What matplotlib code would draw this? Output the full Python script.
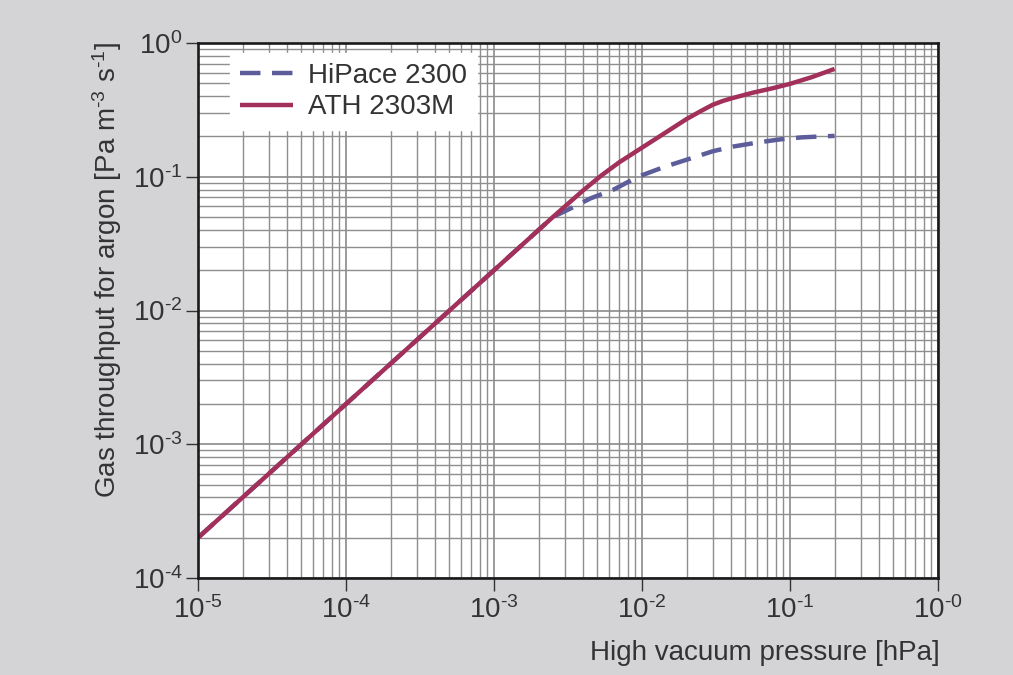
import matplotlib
matplotlib.use("Agg")
import matplotlib.pyplot as plt

# ---- data ----
p_ath = [1e-5, 1e-4, 1e-3, 2.5e-3, 4e-3, 5.3e-3, 7e-3, 1e-2, 1.5e-2, 2e-2, 2.5e-2,
         3e-2, 3.5e-2, 4e-2, 5.6e-2, 7.7e-2, 1e-1, 1.4e-1, 2e-1]
q_ath = [2e-4, 2e-3, 2e-2, 0.05, 0.079, 0.102, 0.128, 0.165, 0.22, 0.27, 0.31,
         0.345, 0.368, 0.385, 0.425, 0.46, 0.495, 0.555, 0.64]

p_hipace = [1e-5, 1e-4, 1e-3, 2.5e-3, 3.3e-3, 4.5e-3, 6.4e-3, 9.4e-3, 1.4e-2, 2e-2,
            3e-2, 4.1e-2, 6e-2, 8.5e-2, 1.2e-1, 1.6e-1, 2e-1]
q_hipace = [2e-4, 2e-3, 2e-2, 0.05, 0.058, 0.069, 0.08, 0.1, 0.118, 0.134,
            0.155, 0.168, 0.18, 0.19, 0.197, 0.2, 0.202]

series_labels = ["HiPace 2300", "ATH 2303M"]

x_ticks = [1e-5, 1e-4, 1e-3, 1e-2, 1e-1, 1e0]
x_ticklabels = [r"$10^{\text{-}5}$", r"$10^{\text{-}4}$", r"$10^{\text{-}3}$",
                r"$10^{\text{-}2}$", r"$10^{\text{-}1}$", r"$10^{\text{-}0}$"]
y_ticks = [1e-4, 1e-3, 1e-2, 1e-1, 1e0]
y_ticklabels = [r"$10^{\text{-}4}$", r"$10^{\text{-}3}$", r"$10^{\text{-}2}$",
                r"$10^{\text{-}1}$", r"$10^{0}$"]

x_label = "High vacuum pressure [hPa]"
y_label = r"Gas throughput for argon [Pa m$^{\text{-}3}$ s$^{\text{-}1}$]"

# ---- style ----
plt.rcParams["font.family"] = ["Liberation Sans", "DejaVu Sans"]
plt.rcParams["mathtext.fontset"] = "custom"
plt.rcParams["mathtext.rm"] = "Liberation Sans"
plt.rcParams["mathtext.it"] = "Liberation Sans:italic"
plt.rcParams["mathtext.bf"] = "Liberation Sans:bold"

TXT = "#333333"
BG = "#d4d4d6"
RED = "#a2305a"
BLUE = "#5c5d9a"

W, H = 1013, 675
fig = plt.figure(figsize=(W / 100, H / 100), dpi=100, facecolor=BG)
ax = fig.add_axes([198 / W, 1 - 578 / H, 740 / W, 535 / H])
ax.set_facecolor("white")

ax.set_xscale("log")
ax.set_yscale("log")
ax.set_xlim(1e-5, 1e0)
ax.set_ylim(1e-4, 1e0)

ax.set_axisbelow(True)
ax.grid(which="major", color="#8a8a8a", lw=1.2)
ax.grid(which="minor", color="#8e8e8e", lw=1.0)

ax.plot(p_hipace, q_hipace, color=BLUE, lw=3.2, linestyle=(0, (4.6, 2.6)),
        dash_capstyle="butt", label=series_labels[0])
ax.plot(p_ath, q_ath, color=RED, lw=3.2, solid_capstyle="butt", label=series_labels[1])

ax.set_xticks(x_ticks)
ax.set_xticklabels(x_ticklabels)
ax.set_yticks(y_ticks)
ax.set_yticklabels(y_ticklabels)

ax.tick_params(which="major", direction="out", length=9, width=1.0, color=TXT,
               labelsize=20, labelcolor=TXT)
ax.tick_params(axis="x", which="major", pad=4)
ax.tick_params(axis="y", which="major", pad=2)
ax.tick_params(which="minor", length=0)

for s in ax.spines.values():
    s.set_color("#1a1a1a")
    s.set_linewidth(1.9)

leg = ax.legend(loc="upper left", bbox_to_anchor=((230 - 198) / 740, (578 - 53) / 535),
                frameon=True, fancybox=False, framealpha=1.0, facecolor="white",
                edgecolor="white", fontsize=20, handlelength=1.9, handletextpad=0.55,
                labelspacing=0.2, borderpad=0.35, borderaxespad=0.0)
for t in leg.get_texts():
    t.set_color(TXT)

fig.text(940 / W, 1 - 653 / H, x_label, ha="right", va="center", fontsize=20, color=TXT)
fig.text(107 / W, 1 - 270 / H, y_label, ha="center", va="center", rotation=90,
         fontsize=20, color=TXT)

fig.savefig("out.png", dpi=100, facecolor=BG)
